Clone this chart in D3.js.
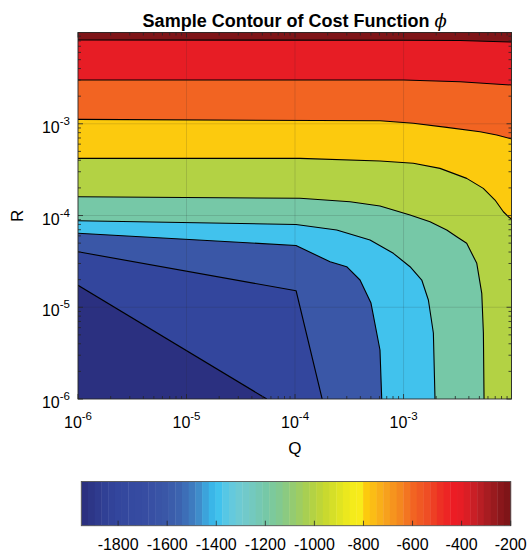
<!DOCTYPE html>
<html><head><meta charset="utf-8">
<script src="https://cdn.jsdelivr.net/npm/d3@7"></script>
<style>
body{margin:0;background:#fff}
svg{display:block}
text{font-family:"Liberation Sans",Arial,Helvetica,sans-serif;fill:#000}
</style>
</head><body>
<svg id="c" width="527" height="552"></svg>
<script>
// ---------- DATA ----------
// contour levels (cost function phi)
const levels = [-1800, -1600, -1400, -1200, -1000, -800, -600, -400, -200];
const zMin = -1950, zMax = -200;
// contour lines: [log10(Q), log10(R)]
const c1800 = [[-6,-4.76],[-4.26,-6]];
const c1600 = [[-6,-4.395],[-3.99,-4.82],[-3.75,-6]];
const c1400 = [[-6,-4.194],[-3.991,-4.327],[-3.677,-4.504],[-3.524,-4.558],[-3.401,-4.703],[-3.300,-4.954],[-3.217,-5.466],[-3.201,-6]];
const c1200 = [[-6,-4.057],[-3.991,-4.098],[-3.616,-4.158],[-3.309,-4.267],[-3.094,-4.412],[-2.940,-4.558],[-2.832,-4.703],[-2.771,-4.921],[-2.725,-5.281],[-2.710,-6]];
const c1000 = [[-6,-3.795],[-3.954,-3.812],[-3.493,-3.850],[-3.217,-3.896],[-2.940,-3.995],[-2.756,-4.068],[-2.602,-4.158],[-2.510,-4.231],[-2.418,-4.303],[-2.325,-4.521],[-2.279,-4.848],[-2.264,-5.281],[-2.258,-6]];
const c800  = [[-6,-3.377],[-3.954,-3.377],[-3.217,-3.406],[-2.910,-3.431],[-2.664,-3.486],[-2.418,-3.595],[-2.265,-3.704],[-2.157,-3.831],[-2.080,-3.959],[-2.034,-4.013],[-2.0,-4.044]];
const c600  = [[-6,-2.952],[-3.217,-2.967],[-2.910,-2.995],[-2.602,-3.039],[-2.295,-3.087],[-2.141,-3.123],[-2.0,-3.166]];
const c400  = [[-6,-2.523],[-2.998,-2.523],[-2.479,-2.542],[-2.0,-2.578]];
const c200  = [[-6,-2.087],[-2.998,-2.090],[-2.479,-2.093],[-2.0,-2.109]];
const contourLines = [c1800, c1600, c1400, c1200, c1000, c800, c600, c400, c200];
// axis ticks (exponents of 10)
const xTickExps = [-6, -5, -4, -3];
const yTickExps = [-6, -5, -4, -3];
const cbTicks = [-1800, -1600, -1400, -1200, -1000, -800, -600, -400, -200];
const titleText = "Sample Contour of Cost Function ";
const xLabel = "Q", yLabel = "R";

// ---------- STYLE: colormap ----------
const cmapStops = [
  [-1950,"#2a2d7c"],[-1900,"#2e3889"],[-1860,"#303f94"],[-1800,"#33469d"],[-1680,"#374ea3"],
  [-1600,"#3a58a8"],[-1550,"#3c64b0"],[-1510,"#3e74bb"],[-1470,"#3f8dcb"],[-1430,"#3bafe3"],
  [-1400,"#38c0ef"],[-1370,"#52c6e8"],[-1320,"#6bcad8"],[-1270,"#72c9c6"],[-1200,"#76c8a8"],
  [-1150,"#80c994"],[-1090,"#94cb72"],[-1020,"#add04a"],[-965,"#c4d733"],[-907,"#dce223"],
  [-853,"#f2eb1c"],[-815,"#f8eb1a"],[-806,"#fdd20a"],[-760,"#fbbd15"],[-704,"#f7a01d"],
  [-650,"#f4861f"],[-598,"#f26522"],[-541,"#ef4e24"],[-488,"#ed3024"],[-435,"#ed1c24"],
  [-394,"#e51d25"],[-337,"#c01f26"],[-284,"#a11b20"],[-231,"#85161a"],[-200,"#7a1416"]
];
const cmapInterp = d3.scaleLinear().domain(cmapStops.map(d=>d[0])).range(cmapStops.map(d=>d[1]))
  .interpolate(d3.interpolateRgb).clamp(true);
const NC = 64;
const step = (zMax - zMin) / NC;
function colorAt(v){
  let i = Math.floor((v - zMin) / step);
  i = Math.max(0, Math.min(NC-1, i));
  return cmapInterp(zMin + (i + 0.5) * step);
}

// ---------- DRAW ----------
const W = 527, H = 552;
const svg = d3.select("#c");
svg.append("rect").attr("width",W).attr("height",H).attr("fill","#fff");

const x = d3.scaleLog().domain([1e-6, Math.pow(10,-2.005)]).range([78, 511.5]);
const y = d3.scaleLog().domain([1e-6, Math.pow(10,-2.005)]).range([399, 32.5]);
const [xL, xR] = x.range();
const [yB, yT] = y.range();

svg.append("defs").append("clipPath").attr("id","pc")
  .append("rect").attr("x",xL).attr("y",yT).attr("width",xR-xL).attr("height",yB-yT);
const plot = svg.append("g").attr("clip-path","url(#pc)");

// base region (below lowest level)
plot.append("rect").attr("x",xL).attr("y",yT).attr("width",xR-xL).attr("height",yB-yT)
  .attr("fill", colorAt(zMin));

const toPx = d => [x(Math.pow(10,d[0])), y(Math.pow(10,d[1]))];
contourLines.forEach((pts, i) => {
  const P = pts.map(toPx);
  const first = P[0], last = P[P.length-1];
  const atBottom = pts[pts.length-1][1] <= -6;
  const poly = [[xL-5, first[1]], ...P];
  if (atBottom) poly.push([last[0], yB+5], [xR+5, yB+5]);
  else poly.push([xR+5, last[1]]);
  poly.push([xR+5, yT-5], [xL-5, yT-5]);
  plot.append("path").attr("d", "M" + poly.join("L") + "Z").attr("fill", colorAt(levels[i]));
});
const lineGen = d3.line();
contourLines.forEach(pts => {
  plot.append("path").attr("d", lineGen(pts.map(toPx)))
    .attr("fill","none").attr("stroke","#000").attr("stroke-width",1.1).attr("stroke-linejoin","round");
});

// grid
const gridX = xTickExps.map(e=>Math.pow(10,e)).filter(v => x(v) > xL+1 && x(v) < xR-1);
const gridY = yTickExps.map(e=>Math.pow(10,e)).filter(v => y(v) < yB-1 && y(v) > yT+1);
plot.selectAll(".gx").data(gridX).enter().append("line")
  .attr("x1",d=>x(d)).attr("x2",d=>x(d)).attr("y1",yT).attr("y2",yB)
  .attr("stroke","rgba(38,38,38,0.15)").attr("stroke-width",1);
plot.selectAll(".gy").data(gridY).enter().append("line")
  .attr("y1",d=>y(d)).attr("y2",d=>y(d)).attr("x1",xL).attr("x2",xR)
  .attr("stroke","rgba(38,38,38,0.15)").attr("stroke-width",1);

// ticks
const axCol = "#262626";
const [dmin, dmax] = x.domain();
const majors = xTickExps.map(e=>Math.pow(10,e));
const minors = [];
xTickExps.forEach(e => { for (let m=2;m<=9;m++){ const v=m*Math.pow(10,e); if (v<=dmax) minors.push(v);} });
const tg = svg.append("g").attr("stroke",axCol).attr("stroke-width",0.8);
function tickSet(vals, len){
  vals.forEach(v => {
    const px = x(v), py = y(v);
    tg.append("line").attr("x1",px).attr("x2",px).attr("y1",yB).attr("y2",yB-len);
    tg.append("line").attr("x1",px).attr("x2",px).attr("y1",yT).attr("y2",yT+len);
    tg.append("line").attr("y1",py).attr("y2",py).attr("x1",xL).attr("x2",xL+len);
    tg.append("line").attr("y1",py).attr("y2",py).attr("x1",xR).attr("x2",xR-len);
  });
}
tickSet(majors, 5);
tickSet(minors, 3);
svg.append("rect").attr("x",xL).attr("y",yT).attr("width",xR-xL).attr("height",yB-yT)
  .attr("fill","none").attr("stroke",axCol).attr("stroke-width",0.9);

// tick labels
const xl = svg.selectAll(".xl").data(xTickExps).enter().append("text")
  .attr("x", d => x(Math.pow(10,d))).attr("y", 428).attr("text-anchor","middle");
xl.append("tspan").attr("font-size",16).text("10");
xl.append("tspan").attr("font-size",11.5).attr("dy",-8).text(d=>String(d));
const yl = svg.selectAll(".yl").data(yTickExps).enter().append("text")
  .attr("x", 70).attr("y", d => y(Math.pow(10,d)) + 9).attr("text-anchor","end");
yl.append("tspan").attr("font-size",16).text("10");
yl.append("tspan").attr("font-size",11.5).attr("dy",-8).text(d=>String(d));

// axis labels
svg.append("text").attr("x",(xL+xR)/2).attr("y",454).attr("text-anchor","middle")
  .attr("font-size",17).text(xLabel);
svg.append("text").attr("transform",`translate(23,${(yT+yB)/2}) rotate(-90)`).attr("text-anchor","middle")
  .attr("font-size",17).text(yLabel);

// title
const tt = svg.append("text").attr("x",(xL+xR)/2).attr("y",27).attr("text-anchor","middle");
tt.append("tspan").attr("font-size",18).attr("font-weight","bold").text(titleText);
tt.append("tspan").attr("font-size",18).attr("font-style","italic")
  .attr("font-family","'DejaVu Serif',serif").text("\u03D5");

// colorbar
const cx = d3.scaleLinear().domain([zMin, zMax]).range([81.3, 510.7]);
const cbT = 481.5, cbB = 525.7;
const cbg = svg.append("g");
cbg.selectAll("rect").data(d3.range(NC)).enter().append("rect")
  .attr("x", i => cx(zMin + i*step)).attr("width", i => cx(zMin+(i+1)*step) - cx(zMin+i*step) + 0.4)
  .attr("y", cbT).attr("height", cbB - cbT)
  .attr("fill", i => cmapInterp(zMin + (i+0.5)*step));
svg.append("rect").attr("x",cx(zMin)).attr("y",cbT).attr("width",cx(zMax)-cx(zMin)).attr("height",cbB-cbT)
  .attr("fill","none").attr("stroke","#555").attr("stroke-width",0.9);
svg.selectAll(".cbt").data(cbTicks).enter().append("line")
  .attr("x1",d=>cx(d)).attr("x2",d=>cx(d)).attr("y1",cbB).attr("y2",cbB-5)
  .attr("stroke",axCol).attr("stroke-width",0.8);
svg.selectAll(".cbl").data(cbTicks).enter().append("text")
  .attr("x",d=>cx(d)).attr("y",550).attr("text-anchor","middle").attr("font-size",16)
  .text(d=>String(d));
</script>
</body></html>
